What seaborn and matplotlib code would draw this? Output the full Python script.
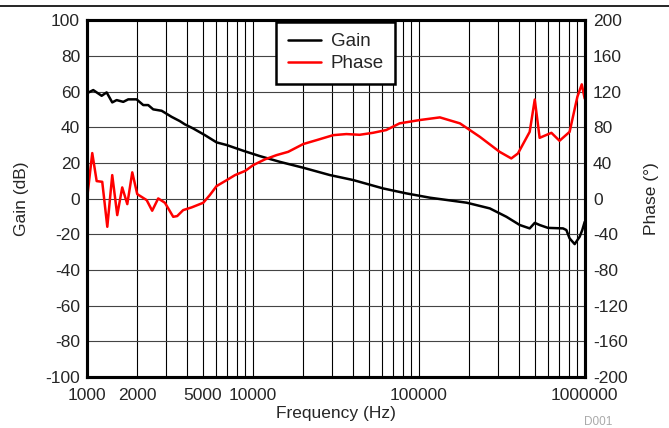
import numpy as np
import pandas as pd
import matplotlib
matplotlib.use("Agg")
import matplotlib.pyplot as plt
import seaborn as sns
from matplotlib.lines import Line2D
from matplotlib.ticker import FixedLocator, LogLocator, NullFormatter, FuncFormatter

# gain curve (Hz, dB)
freq_gain = [1000, 1091, 1226, 1314, 1420, 1510, 1655, 1773, 1991, 2184, 2339, 2507,
             2820, 3237, 3630, 3890, 4365, 5130, 6040, 6955, 8750, 11020, 14530,
             20100, 29060, 40200, 60900, 84300, 116700, 194300, 268000, 337500,
             406000, 466000, 500000, 535000, 600000, 740000, 775000, 811000,
             870000, 932000, 967000, 1000000]
gain_db = [59.0, 60.8, 57.6, 59.5, 53.9, 55.2, 54.2, 55.6, 55.6, 52.4, 52.4, 50.0,
           49.2, 45.8, 43.4, 41.6, 39.3, 35.6, 31.5, 30.0, 26.8, 23.8, 20.6,
           17.3, 13.2, 10.4, 5.7, 2.9, 0.5, -2.3, -5.5, -10.2,
           -14.8, -16.7, -13.6, -14.8, -16.4, -16.7, -17.6, -22.3,
           -25.5, -21.4, -17.6, -13.0]

# phase curve (Hz, degrees)
freq_phase = [1000, 1076, 1144, 1236, 1326, 1420, 1522, 1631, 1750, 1875, 2009, 2290,
              2472, 2688, 2950, 3310, 3497, 3800, 4270, 5020, 5500, 6040, 6955,
              7800, 9000, 10040, 11800, 13880, 16320, 20100, 24200, 30500, 36600,
              44000, 52900, 63600, 76600, 101100, 134000, 177000, 233000, 307000,
              361000, 396000, 466000, 500000, 535000, 630000, 705000, 811000,
              903000, 960000, 1000000]
phase_deg = [-1, 51, 19.6, 18.8, -31.6, 26.3, -18.5, 12.5, -6.2, 29.4, 5, -1.7,
             -13.6, 0.2, -4.7, -20.4, -19.6, -12.9, -9.9, -4.7, 3.9, 14, 20.7,
             26.3, 31.1, 37.5, 43.9, 48.7, 52.4, 61.1, 65.5, 71.1, 72.3,
             71.5, 73.7, 76.8, 84.3, 88, 91, 84.3, 69.3, 52.4,
             45, 50.6, 74.8, 111, 68.1, 73.7, 64.8, 74.8,
             114, 128, 112]

x_ticks = [1000, 2000, 5000, 10000, 100000, 1000000]

df_gain = pd.DataFrame({"Frequency": freq_gain, "Gain": gain_db})
df_phase = pd.DataFrame({"Frequency": freq_phase, "Phase": phase_deg})

sns.set_style("white")
plt.rcParams["font.family"] = ["Liberation Sans", "DejaVu Sans"]
plt.rcParams["font.size"] = 12
plt.rcParams["axes.unicode_minus"] = False

fig = plt.figure(figsize=(6.69, 4.28), dpi=100)
ax = fig.add_axes([0.130, 0.119, 0.744, 0.834])
ax2 = ax.twinx()

sns.lineplot(data=df_gain, x="Frequency", y="Gain", ax=ax, color="black",
             linewidth=1.8, legend=False)
sns.lineplot(data=df_phase, x="Frequency", y="Phase", ax=ax2, color="#ff0000",
             linewidth=1.8, legend=False)

ax.set_xscale("log")
ax.set_xlim(1000, 1000000)
ax.set_ylim(-100, 100)
ax2.set_ylim(-200, 200)
ax.set_yticks(np.arange(-100, 101, 20))
ax2.set_yticks(np.arange(-200, 201, 40))

ax.xaxis.set_major_locator(FixedLocator(x_ticks))
ax.xaxis.set_major_formatter(FuncFormatter(lambda v, p: f"{int(round(v))}"))
ax.xaxis.set_minor_locator(LogLocator(base=10, subs=np.arange(1, 10), numticks=20))
ax.xaxis.set_minor_formatter(NullFormatter())

ax.grid(True, which="both", axis="x", color="black", linewidth=0.8)
ax.grid(True, which="major", axis="y", color="#444444", linewidth=0.8)
ax.tick_params(axis="y", which="both", length=0, labelsize=12.5, pad=5)
ax.tick_params(axis="x", which="both", length=0, labelsize=12.5, pad=8)
ax2.tick_params(which="both", length=0, labelsize=12.5, pad=6)

for a in (ax, ax2):
    for s in a.spines.values():
        s.set_color("black")
        s.set_linewidth(2.2)

ax.set_xlabel("Frequency (Hz)", fontsize=12.5, labelpad=2)
ax.set_ylabel("Gain (dB)", fontsize=12.5, labelpad=12)
ax2.set_ylabel("Phase (°)", fontsize=12.5, labelpad=12)

handles = [Line2D([0], [0], color="black", lw=1.8),
           Line2D([0], [0], color="#ff0000", lw=1.8)]
leg = ax2.legend(handles, ["Gain", "Phase"], loc="upper center",
                 bbox_to_anchor=(0.5, 1.0), frameon=True, fancybox=False,
                 framealpha=1, edgecolor="black", fontsize=13.5,
                 handlelength=1.75, handletextpad=0.55, labelspacing=0.26,
                 borderaxespad=0.1, borderpad=0.6)
leg.get_frame().set_linewidth(1.8)

fig.add_artist(Line2D([0, 1], [1 - 5.5 / 428, 1 - 5.5 / 428], color="black",
                      linewidth=1.2, transform=fig.transFigure))
fig.text(0.915, 0.0, "D001", fontsize=8.5, color="#aaaaaa", ha="right", va="bottom")

fig.savefig("out.png", dpi=100)
